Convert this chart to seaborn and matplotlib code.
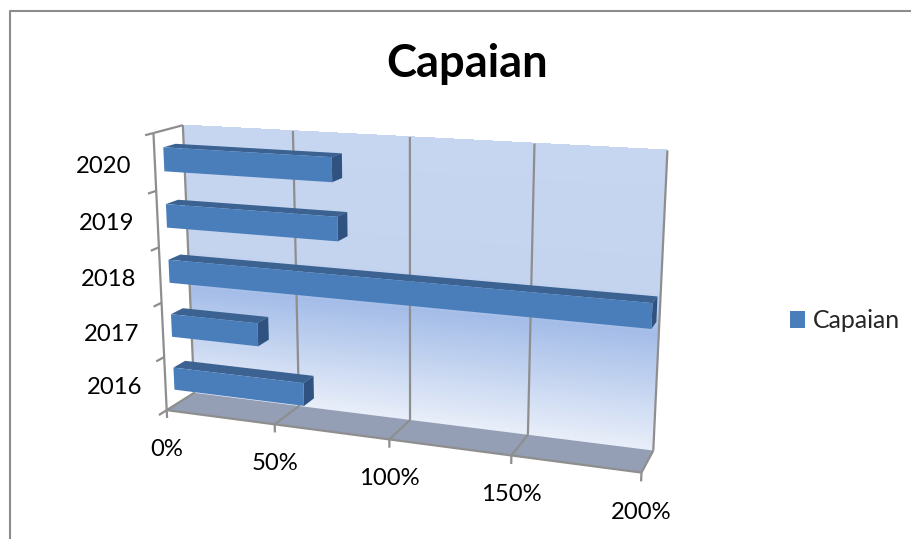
import numpy as np
import pandas as pd
import matplotlib
matplotlib.use("Agg")
import matplotlib.pyplot as plt
import seaborn as sns
from matplotlib.colors import LinearSegmentedColormap
from matplotlib.lines import Line2D
from matplotlib.patches import Polygon, Rectangle
from matplotlib.transforms import IdentityTransform, Transform

# --- data ---
years = ["2020", "2019", "2018", "2017", "2016"]
capaian = [0.74, 0.76, 2.00, 0.40, 0.60]
x_ticks = [0.0, 0.5, 1.0, 1.5, 2.0]
x_tick_labels = ["0%", "50%", "100%", "150%", "200%"]
series_name = "Capaian"

W, H = 912, 539
Y_TOP, Y_BOT = -0.5, 4.5

sns.set_theme(style="white")
plt.rcParams["font.family"] = ["Lato", "DejaVu Sans"]

# --- 3D view: camera matrix calibrated from the drawn box (x value, category, depth) -> pixels ---
calib = [
    ((0, Y_TOP, 0), (153, 133)), ((0, Y_BOT, 0), (167, 409)),
    ((0.5, Y_BOT, 0), (275, 425)), ((1, Y_BOT, 0), (389, 439)),
    ((1.5, Y_BOT, 0), (512, 456)), ((2, Y_BOT, 0), (641, 473)),
    ((0, Y_TOP, 1), (183, 126)), ((0.5, Y_TOP, 1), (293, 131)),
    ((1, Y_TOP, 1), (410, 137)), ((1.5, Y_TOP, 1), (535, 143)),
    ((2, Y_TOP, 1), (667, 150)), ((0, Y_BOT, 1), (193, 393)),
    ((0.5, Y_BOT, 1), (300, 405)), ((1, Y_BOT, 1), (410, 421)),
    ((1.5, Y_BOT, 1), (528, 435)), ((2, Y_BOT, 1), (653, 450)),
]
rows = []
for (a, b, c), (u, v) in calib:
    rows.append([a, b, c, 1, 0, 0, 0, 0, -u * a, -u * b, -u * c, -u])
    rows.append([0, 0, 0, 0, a, b, c, 1, -v * a, -v * b, -v * c, -v])
CAM = np.linalg.svd(np.array(rows, float))[2][-1].reshape(3, 4)


def project(x, y, z):
    x, y, z = np.broadcast_arrays(np.asarray(x, float), np.asarray(y, float), np.asarray(z, float))
    q = CAM @ np.vstack([x.ravel(), y.ravel(), z.ravel(), np.ones(x.size)])
    return np.column_stack([q[0] / q[2], H - q[1] / q[2]])


class Plane(Transform):
    """Data (value, category) at a fixed depth -> display pixels."""
    input_dims = output_dims = 2
    is_separable = False
    has_inverse = False

    def __init__(self, z):
        super().__init__()
        self.z = z

    def transform_non_affine(self, values):
        values = np.asarray(values, float)
        return project(values[:, 0], values[:, 1], self.z)


fig, ax = plt.subplots(figsize=(W / 100, H / 100), dpi=100)
fig.patch.set_facecolor("white")
ax.set_position([0, 0, 1, 1])

df = pd.DataFrame({"Tahun": years, series_name: capaian})
BAR_BLUE, BAR_TOP, BAR_SIDE = "#4A7EBB", "#3B6291", "#2F5280"
Z_FRONT, Z_BACK = 0.30, 0.72
sns.barplot(data=df, x=series_name, y="Tahun", order=years, color=BAR_BLUE,
            saturation=1, width=0.42, orient="h", ax=ax, label=series_name, zorder=6)
bars = [p for p in ax.patches if isinstance(p, Rectangle)]
ax.set_xlim(0, 2)
ax.set_ylim(Y_BOT, Y_TOP)
ax.set_autoscale_on(False)
ax.axis("off")

# wall gradient
stops = [(0, "#C6D6F0"), (0.46, "#C4D4EF"), (0.60, "#A4BDE8"), (1, "#E8EEF9")]
cmap = LinearSegmentedColormap.from_list("wall", stops)
ye = np.linspace(Y_TOP, Y_BOT, 241)
ax.pcolormesh([0, 2], ye, ((ye[:-1] + ye[1:]) / 2 - Y_TOP)[:, None] / (Y_BOT - Y_TOP),
              cmap=cmap, vmin=0, vmax=1, transform=Plane(1), zorder=1,
              antialiased=False, linewidth=0, clip_on=False)

# floor
floor = np.vstack([project([0, 2], Y_BOT, 0), project([2, 0], Y_BOT, 1)])
ax.add_patch(Polygon(floor, closed=True, fc="#949FB5", ec="none", transform=IdentityTransform(),
                     zorder=2, clip_on=False))

GRID = "#8E8E8E"


def seg(x, y, z, lw=1.6, zorder=3):
    ax.add_line(Line2D(*project(x, y, z).T, color=GRID, lw=lw, transform=IdentityTransform(),
                       zorder=zorder, clip_on=False, solid_capstyle="butt"))


for t in x_ticks:
    seg([t, t], [Y_TOP, Y_BOT], 1)              # wall gridline
    seg(t, Y_BOT, [0, 1])                        # floor gridline
    seg([t, t], [Y_BOT, Y_BOT + 0.15], 0)        # tick
seg([0, 2], Y_BOT, 0)                            # front floor edge
seg(0, [Y_TOP, Y_BOT], 0)                        # category axis
seg(0, Y_TOP, [0, 1])
for y in np.arange(Y_TOP, Y_BOT + 0.5):
    seg(0, y, [0, -0.27])

# bars: front faces are seaborn's own rectangles, moved onto the 3D plane
front = Plane(Z_FRONT)
for p in bars:
    x1 = p.get_x() + p.get_width()
    y0, y1 = p.get_y(), p.get_y() + p.get_height()
    p.set_transform(front)
    p.set_clip_on(False)
    p.set_edgecolor("none")
    p.set_zorder(6)
    top = np.vstack([project([0, x1], y0, Z_FRONT), project([x1, 0], y0, Z_BACK)])
    side = np.vstack([project(x1, [y0, y1], Z_FRONT), project(x1, [y1, y0], Z_BACK)])
    ax.add_patch(Polygon(top, closed=True, fc=BAR_TOP, ec="none", transform=IdentityTransform(),
                         zorder=5, clip_on=False))
    ax.add_patch(Polygon(side, closed=True, fc=BAR_SIDE, ec="none", transform=IdentityTransform(),
                         zorder=5, clip_on=False))

# labels
PT = 72 / 100
LABEL_PT = 17.2
for t, lab in zip(x_ticks, x_tick_labels):
    ax.annotate(lab, xy=(t, Y_BOT), xycoords=Plane(0), xytext=(0, -39.5 * PT), textcoords="offset points",
                ha="center", va="center", fontsize=LABEL_PT, color="black", annotation_clip=False)
for i, lab in enumerate(years):
    ax.annotate(lab, xy=(0, i), xycoords=Plane(0), xytext=(-23.5 * PT, -4 * PT), textcoords="offset points",
                ha="right", va="center", fontsize=LABEL_PT, color="black", annotation_clip=False)

fig.text(467 / W, 1 - 64 / H, series_name, ha="center", va="center", fontsize=32.7,
         fontweight="bold", color="black")

leg = ax.legend(loc="center left", bbox_to_anchor=(790 / W, 1 - 320 / H), bbox_transform=fig.transFigure,
                frameon=False, fontsize=LABEL_PT, handlelength=0.63, handleheight=0.7,
                handletextpad=0.33, borderpad=0, borderaxespad=0)
leg.get_texts()[0].set_fontsize(17.9)

# chart-area border
fig.add_artist(Line2D([10.5 / W, 10.5 / W, 1], [0, 1 - 10.5 / H, 1 - 10.5 / H], color="#8C8C8C", lw=1.5,
                      transform=fig.transFigure))

fig.savefig("out.png", dpi=100)
